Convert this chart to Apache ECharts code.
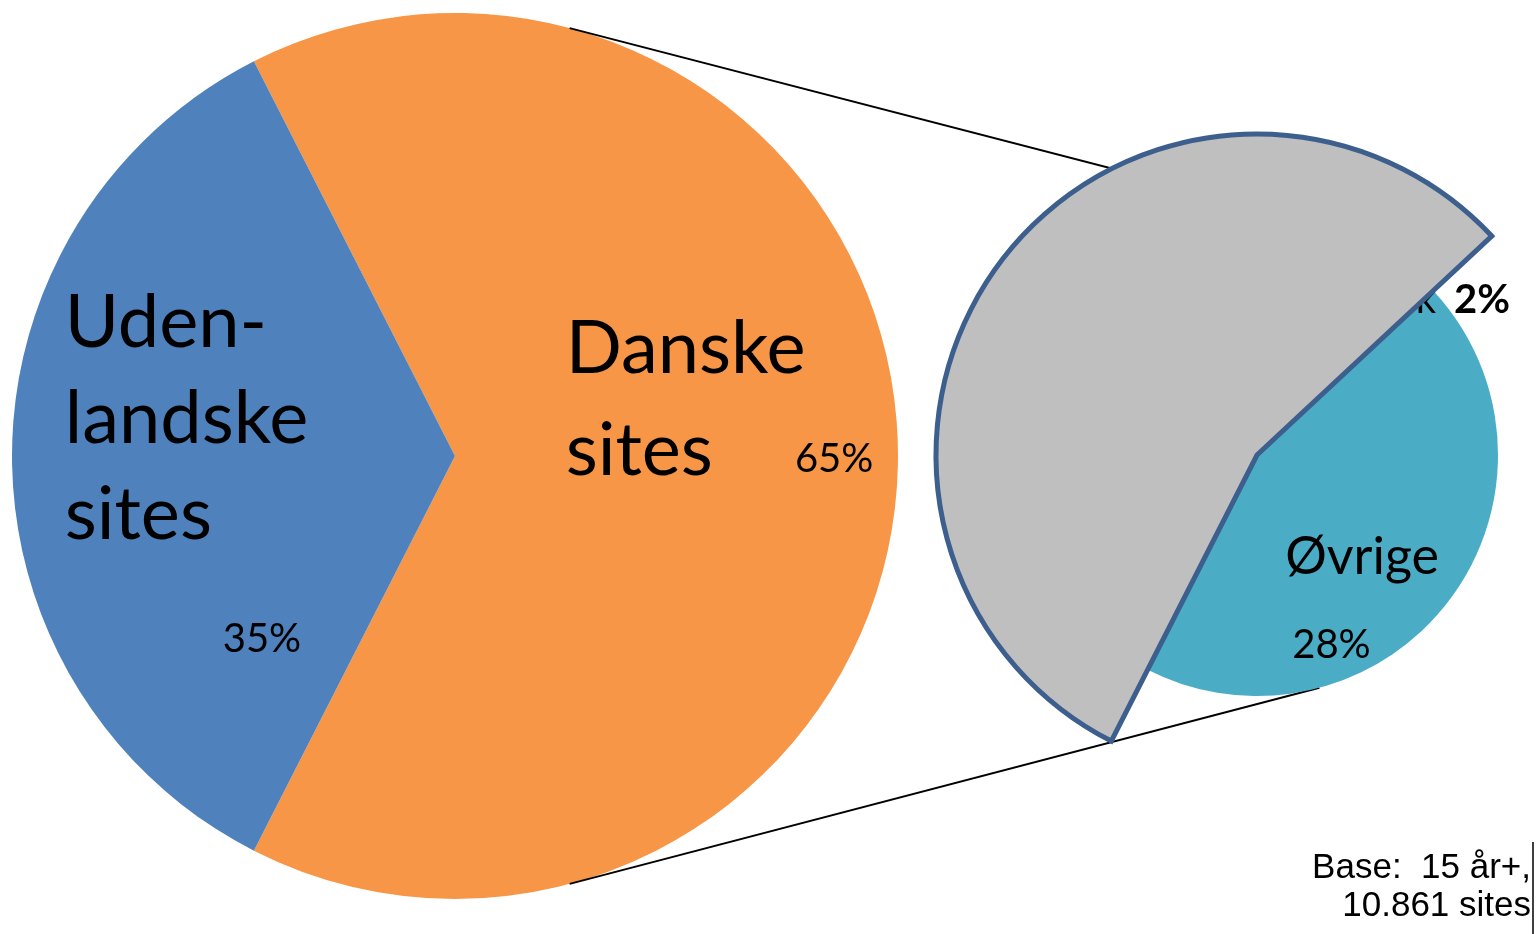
<!DOCTYPE html>
<html>
<head>
<meta charset="utf-8">
<script src="https://cdn.jsdelivr.net/npm/echarts@6/dist/echarts.min.js"></script>
<style>
  html, body { margin: 0; padding: 0; background: #fff; }
  #chart { width: 1538px; height: 934px; }
</style>
</head>
<body>
<div id="chart"></div>
<script>
// main pie: share of all sites
const mainNames = ['Danske sites', 'Udenlandske sites'];
const mainValues = [65, 35];
const mainColors = ['#F79646', '#4F81BD'];

// second pie: split of the danish sites (first slice is masked by the grey wedge)
const subNames = ['Skjult', 'Krak', 'Øvrige'];
const subValues = [33, 2, 28];
const subColors = ['#9BBB59', '#8064A2', '#4BACC6'];

const baseText = 'Base:  15 år+,\n10.861 sites';

// layout
const bigC = [455, 456], bigR = 443;
const smallC = [1257, 455], smallR = 241, maskR = 321;
const subStart = 243;
const connAngle = 75;

const font = 'Lato';

function onCircle(c, r, deg) {
  const a = deg * Math.PI / 180;
  return [c[0] + r * Math.cos(a), c[1] - r * Math.sin(a)];
}
const topA = onCircle(bigC, bigR, connAngle), topB = onCircle(smallC, smallR, connAngle);
const botA = onCircle(bigC, bigR, -connAngle), botB = onCircle(smallC, smallR, -connAngle);

const mainData = [
  {
    name: mainNames[0], value: mainValues[0],
    itemStyle: { color: mainColors[0] },
    label: {
      formatter: '{t|Danske}\n{t|sites}{p|' + mainValues[0] + '%}',
      padding: [0, 0, 112, 80],
      rich: {
        t: { fontFamily: font, fontSize: 74, lineHeight: 102, color: '#000', align: 'left' },
        p: { fontFamily: font, fontSize: 40, color: '#000', align: 'left', padding: [16, 0, 0, 82] }
      }
    }
  },
  {
    name: mainNames[1], value: mainValues[1],
    itemStyle: { color: mainColors[1] },
    label: {
      formatter: '{t|Uden-}\n{t|landske}\n{t|sites}\n{p|' + mainValues[1] + '%}',
      padding: [78, 88, 0, 0],
      rich: {
        t: { fontFamily: font, fontSize: 74, lineHeight: 96, color: '#000', align: 'left' },
        p: { fontFamily: font, fontSize: 40, lineHeight: 152, color: '#000', align: 'left', padding: [0, 0, 0, 158] }
      }
    }
  }
];

const subData = [
  { name: subNames[0], value: subValues[0], itemStyle: { color: subColors[0] }, label: { show: false } },
  {
    name: subNames[1], value: subValues[1], itemStyle: { color: subColors[1] },
    label: {
      formatter: '{k|' + subNames[1] + '}{s|' + subValues[1] + '%}',
      padding: [0, 0, 124, 188],
      rich: {
        k: { fontFamily: font, fontSize: 40, color: '#000' },
        s: { fontFamily: font, fontSize: 40, fontWeight: 'bold', color: '#000', padding: [0, 0, 0, 18] }
      }
    }
  },
  {
    name: subNames[2], value: subValues[2], itemStyle: { color: subColors[2] },
    label: {
      formatter: '{o|' + subNames[2] + '}\n{q|' + subValues[2] + '%}',
      padding: [172, 0, 0, 13],
      rich: {
        o: { fontFamily: font, fontSize: 52, lineHeight: 60, color: '#000', align: 'left' },
        q: { fontFamily: font, fontSize: 40, lineHeight: 116, color: '#000', align: 'left', padding: [0, 0, 0, 7] }
      }
    }
  }
];

// grey wedge drawn over the hidden part of the second pie
const maskData = [
  {
    value: subValues[0] + subValues[1],
    itemStyle: { color: '#BFBFBF', borderColor: '#3C5F8D', borderWidth: 5, borderJoin: 'miter' }
  },
  { value: subValues[2], itemStyle: { color: 'transparent', borderWidth: 0 } }
];

const chart = echarts.init(document.getElementById('chart'));
chart.setOption({
  animation: false,
  backgroundColor: '#fff',
  graphic: {
    elements: [
      { type: 'line', z: 3, shape: { x1: topA[0], y1: topA[1], x2: topB[0], y2: topB[1] }, style: { stroke: '#000', lineWidth: 2 } },
      { type: 'line', z: 3, shape: { x1: botA[0], y1: botA[1], x2: botB[0], y2: botB[1] }, style: { stroke: '#000', lineWidth: 2 } },
      { type: 'line', z: 3, shape: { x1: 1533, y1: 842, x2: 1533, y2: 934 }, style: { stroke: '#000', lineWidth: 1.5 } },
      {
        type: 'text', z: 3, x: 1531, y: 849,
        style: {
          text: baseText, align: 'right', verticalAlign: 'top',
          fontFamily: 'Liberation Sans', fontSize: 35, lineHeight: 38, fill: '#000'
        }
      }
    ]
  },
  series: [
    {
      type: 'pie', z: 2, silent: true,
      center: bigC, radius: bigR,
      startAngle: 180 - mainValues[1] / 100 * 180,
      itemStyle: { borderWidth: 0 },
      label: { show: true, position: 'inside', overflow: 'none' },
      labelLine: { show: false },
      data: mainData
    },
    {
      type: 'pie', z: 4, silent: true,
      center: smallC, radius: smallR,
      startAngle: subStart,
      itemStyle: { borderWidth: 0 },
      label: { show: true, position: 'inside', overflow: 'none' },
      labelLine: { show: false },
      data: subData
    },
    {
      type: 'pie', z: 5, silent: true,
      center: smallC, radius: maskR,
      startAngle: subStart,
      label: { show: false },
      labelLine: { show: false },
      data: maskData
    }
  ]
});
</script>
</body>
</html>
